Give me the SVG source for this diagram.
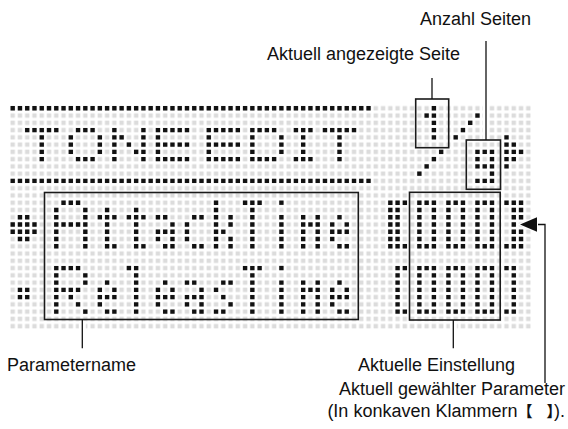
<svg xmlns="http://www.w3.org/2000/svg" width="568" height="429" viewBox="0 0 568 429">
<style>
.k{stroke:#111;stroke-width:.6;stroke-dasharray:.6 .4;fill:none}
.box{fill:none;stroke:#1a1a1a;stroke-width:1.6}
.ln{stroke:#111;stroke-width:1.3;fill:none}
.halo{stroke:#fff;stroke-width:7;fill:none}
text{font-family:"Liberation Sans",Arial,"Noto Sans CJK JP",sans-serif;font-size:18px;fill:#111}
.cjk{font-family:"Noto Sans CJK JP","Liberation Sans",sans-serif;font-weight:bold;font-size:15px}
</style>
<defs>
<pattern id="grid" width="1" height="1" patternUnits="userSpaceOnUse" x="-.5" y="-.5"><rect x=".2" y=".2" width=".6" height=".6" fill="#dcdcdc"/></pattern>
</defs>
<rect width="568" height="429" fill="#fff"/>
<g id="lcd" transform="translate(12.7 108.3) scale(7.262)">
<rect x="-.5" y="-.5" width="72" height="31" fill="url(#grid)"/>
<g id="rules">
<line class="k" x1="-.3" y1="0" x2="49.3" y2="0"/>
<line class="k" x1="-.3" y1="10" x2="49.3" y2="10"/>
</g>
<g id="title">
<line class="k" x1="1.7" y1="3" x2="6.3" y2="3"/><line class="k" x1="4" y1="3.7" x2="4" y2="7.3"/>
<line class="k" x1="8.7" y1="3" x2="11.3" y2="3"/><line class="k" x1="8" y1="3.7" x2="8" y2="6.3"/><line class="k" x1="12" y1="3.7" x2="12" y2="6.3"/><line class="k" x1="8.7" y1="7" x2="11.3" y2="7"/>
<line class="k" x1="14" y1="2.7" x2="14" y2="7.3"/><line class="k" x1="18" y1="2.7" x2="18" y2="7.3"/><line class="k" x1="14.7" y1="4" x2="15.3" y2="4"/><line class="k" x1="15.7" y1="5" x2="16.3" y2="5"/><line class="k" x1="16.7" y1="6" x2="17.3" y2="6"/>
<line class="k" x1="20" y1="2.7" x2="20" y2="7.3"/><line class="k" x1="20.7" y1="3" x2="24.3" y2="3"/><line class="k" x1="20.7" y1="5" x2="24.3" y2="5"/><line class="k" x1="20.7" y1="7" x2="24.3" y2="7"/>
<line class="k" x1="27" y1="2.7" x2="27" y2="7.3"/><line class="k" x1="27.7" y1="3" x2="31.3" y2="3"/><line class="k" x1="27.7" y1="5" x2="31.3" y2="5"/><line class="k" x1="27.7" y1="7" x2="31.3" y2="7"/>
<line class="k" x1="33" y1="2.7" x2="33" y2="7.3"/><line class="k" x1="33.7" y1="3" x2="36.3" y2="3"/><line class="k" x1="33.7" y1="7" x2="36.3" y2="7"/><line class="k" x1="37" y1="3.7" x2="37" y2="6.3"/>
<line class="k" x1="38.7" y1="3" x2="41.3" y2="3"/><line class="k" x1="40" y1="3.7" x2="40" y2="6.3"/><line class="k" x1="38.7" y1="7" x2="41.3" y2="7"/>
<line class="k" x1="42.7" y1="3" x2="47.3" y2="3"/><line class="k" x1="45" y1="3.7" x2="45" y2="7.3"/>
</g>
<g id="page">
<line class="k" x1="58" y1="-.3" x2="58" y2="4.3"/><line class="k" x1="56.7" y1="1" x2="57.3" y2="1"/>
<line class="k" x1="63.7" y1="1" x2="64.3" y2="1"/><line class="k" x1="62.7" y1="2" x2="63.3" y2="2"/><line class="k" x1="61.7" y1="3" x2="62.3" y2="3"/><line class="k" x1="60.7" y1="4" x2="61.3" y2="4"/>
<line class="k" x1="58.7" y1="6" x2="59.3" y2="6"/><line class="k" x1="57.7" y1="7" x2="58.3" y2="7"/><line class="k" x1="56.7" y1="8" x2="57.3" y2="8"/><line class="k" x1="55.7" y1="9" x2="56.3" y2="9"/>
<line class="k" x1="63.7" y1="6" x2="66.3" y2="6"/><line class="k" x1="63.7" y1="7" x2="64.3" y2="7"/><line class="k" x1="65.7" y1="7" x2="66.3" y2="7"/><line class="k" x1="63.7" y1="8" x2="66.3" y2="8"/><line class="k" x1="65.7" y1="9" x2="66.3" y2="9"/><line class="k" x1="63.7" y1="10" x2="66.3" y2="10"/>
<line class="k" x1="68" y1="3.7" x2="68" y2="8.3"/><line class="k" x1="69" y1="4.7" x2="69" y2="7.3"/><line class="k" x1="69.7" y1="6" x2="70.3" y2="6"/>
</g>
<g id="row1">
<line class="k" x1=".7" y1="15" x2="2.3" y2="15"/><line class="k" x1="-.3" y1="16" x2="3.3" y2="16"/><line class="k" x1="-.3" y1="17" x2="3.3" y2="17"/><line class="k" x1=".7" y1="18" x2="2.3" y2="18"/>
<line class="k" x1="6.7" y1="13" x2="9.3" y2="13"/><line class="k" x1="6" y1="13.7" x2="6" y2="19.3"/><line class="k" x1="10" y1="13.7" x2="10" y2="19.3"/><line class="k" x1="6.7" y1="16" x2="9.3" y2="16"/>
<line class="k" x1="13" y1="13.7" x2="13" y2="19.3"/><line class="k" x1="11.7" y1="15" x2="12.3" y2="15"/><line class="k" x1="13.7" y1="15" x2="14.3" y2="15"/><line class="k" x1="13.7" y1="19" x2="14.3" y2="19"/>
<line class="k" x1="17" y1="13.7" x2="17" y2="19.3"/><line class="k" x1="15.7" y1="15" x2="16.3" y2="15"/><line class="k" x1="17.7" y1="15" x2="18.3" y2="15"/><line class="k" x1="17.7" y1="19" x2="18.3" y2="19"/>
<line class="k" x1="19.7" y1="15" x2="21.3" y2="15"/><line class="k" x1="21.7" y1="16" x2="22.3" y2="16"/><line class="k" x1="19.7" y1="17" x2="22.3" y2="17"/><line class="k" x1="19.7" y1="18" x2="20.3" y2="18"/><line class="k" x1="21.7" y1="18" x2="22.3" y2="18"/><line class="k" x1="20.7" y1="19" x2="22.3" y2="19"/>
<line class="k" x1="24.7" y1="15" x2="26.3" y2="15"/><line class="k" x1="24" y1="15.7" x2="24" y2="18.3"/><line class="k" x1="24.7" y1="19" x2="26.3" y2="19"/>
<line class="k" x1="28" y1="12.7" x2="28" y2="19.3"/><line class="k" x1="30" y1="14.7" x2="30" y2="16.3"/><line class="k" x1="28.7" y1="17" x2="29.3" y2="17"/><line class="k" x1="30" y1="17.7" x2="30" y2="19.3"/>
<line class="k" x1="31.7" y1="13" x2="34.3" y2="13"/><line class="k" x1="33" y1="13.7" x2="33" y2="19.3"/>
<line class="k" x1="36.7" y1="13" x2="37.3" y2="13"/><line class="k" x1="37" y1="14.7" x2="37" y2="19.3"/>
<line class="k" x1="40" y1="14.7" x2="40" y2="19.3"/><line class="k" x1="42" y1="14.7" x2="42" y2="19.3"/><line class="k" x1="40.7" y1="16" x2="41.3" y2="16"/>
<line class="k" x1="44.7" y1="15" x2="45.3" y2="15"/><line class="k" x1="43.7" y1="16" x2="44.3" y2="16"/><line class="k" x1="45.7" y1="16" x2="46.3" y2="16"/><line class="k" x1="43.7" y1="17" x2="46.3" y2="17"/><line class="k" x1="43.7" y1="18" x2="44.3" y2="18"/><line class="k" x1="44.7" y1="19" x2="46.3" y2="19"/>
<line class="k" x1="51.7" y1="13" x2="54.3" y2="13"/><line class="k" x1="52" y1="13.7" x2="52" y2="18.3"/><line class="k" x1="53" y1="13.7" x2="53" y2="18.3"/><line class="k" x1="51.7" y1="19" x2="54.3" y2="19"/>
<line class="k" x1="55.7" y1="13" x2="58.3" y2="13"/><line class="k" x1="56" y1="13.7" x2="56" y2="18.3"/><line class="k" x1="58" y1="13.7" x2="58" y2="18.3"/><line class="k" x1="55.7" y1="19" x2="58.3" y2="19"/>
<line class="k" x1="59.7" y1="13" x2="62.3" y2="13"/><line class="k" x1="60" y1="13.7" x2="60" y2="18.3"/><line class="k" x1="62" y1="13.7" x2="62" y2="18.3"/><line class="k" x1="59.7" y1="19" x2="62.3" y2="19"/>
<line class="k" x1="63.7" y1="13" x2="66.3" y2="13"/><line class="k" x1="64" y1="13.7" x2="64" y2="18.3"/><line class="k" x1="66" y1="13.7" x2="66" y2="18.3"/><line class="k" x1="63.7" y1="19" x2="66.3" y2="19"/>
<line class="k" x1="67.7" y1="13" x2="70.3" y2="13"/><line class="k" x1="69" y1="13.7" x2="69" y2="18.3"/><line class="k" x1="70" y1="13.7" x2="70" y2="15.3"/><line class="k" x1="70" y1="16.7" x2="70" y2="18.3"/><line class="k" x1="67.7" y1="19" x2="70.3" y2="19"/>
</g>
<g id="row2">
<line class="k" x1=".7" y1="25" x2="2.3" y2="25"/><line class="k" x1=".7" y1="26" x2="2.3" y2="26"/>
<line class="k" x1="6" y1="21.7" x2="6" y2="28.3"/><line class="k" x1="6.7" y1="22" x2="9.3" y2="22"/><line class="k" x1="10" y1="22.7" x2="10" y2="24.3"/><line class="k" x1="6.7" y1="25" x2="9.3" y2="25"/><line class="k" x1="7.7" y1="26" x2="8.3" y2="26"/><line class="k" x1="8.7" y1="27" x2="9.3" y2="27"/><line class="k" x1="9.7" y1="28" x2="10.3" y2="28"/>
<line class="k" x1="12.7" y1="24" x2="13.3" y2="24"/><line class="k" x1="11.7" y1="25" x2="12.3" y2="25"/><line class="k" x1="13.7" y1="25" x2="14.3" y2="25"/><line class="k" x1="11.7" y1="26" x2="14.3" y2="26"/><line class="k" x1="11.7" y1="27" x2="12.3" y2="27"/><line class="k" x1="12.7" y1="28" x2="14.3" y2="28"/>
<line class="k" x1="15.7" y1="22" x2="16.3" y2="22"/><line class="k" x1="17" y1="21.7" x2="17" y2="28.3"/>
<line class="k" x1="20.7" y1="24" x2="21.3" y2="24"/><line class="k" x1="19.7" y1="25" x2="20.3" y2="25"/><line class="k" x1="21.7" y1="25" x2="22.3" y2="25"/><line class="k" x1="19.7" y1="26" x2="22.3" y2="26"/><line class="k" x1="19.7" y1="27" x2="20.3" y2="27"/><line class="k" x1="20.7" y1="28" x2="22.3" y2="28"/>
<line class="k" x1="23.7" y1="24" x2="25.3" y2="24"/><line class="k" x1="25.7" y1="25" x2="26.3" y2="25"/><line class="k" x1="23.7" y1="26" x2="26.3" y2="26"/><line class="k" x1="23.7" y1="27" x2="24.3" y2="27"/><line class="k" x1="25.7" y1="27" x2="26.3" y2="27"/><line class="k" x1="24.7" y1="28" x2="26.3" y2="28"/>
<line class="k" x1="28.7" y1="24" x2="30.3" y2="24"/><line class="k" x1="27.7" y1="25" x2="28.3" y2="25"/><line class="k" x1="28.7" y1="26" x2="29.3" y2="26"/><line class="k" x1="29.7" y1="27" x2="30.3" y2="27"/><line class="k" x1="27.7" y1="28" x2="29.3" y2="28"/>
<line class="k" x1="31.7" y1="22" x2="34.3" y2="22"/><line class="k" x1="33" y1="22.7" x2="33" y2="28.3"/>
<line class="k" x1="36.7" y1="22" x2="37.3" y2="22"/><line class="k" x1="37" y1="23.7" x2="37" y2="28.3"/>
<line class="k" x1="40" y1="23.7" x2="40" y2="28.3"/><line class="k" x1="42" y1="23.7" x2="42" y2="28.3"/><line class="k" x1="40.7" y1="25" x2="41.3" y2="25"/>
<line class="k" x1="44.7" y1="24" x2="45.3" y2="24"/><line class="k" x1="43.7" y1="25" x2="44.3" y2="25"/><line class="k" x1="45.7" y1="25" x2="46.3" y2="25"/><line class="k" x1="43.7" y1="26" x2="46.3" y2="26"/><line class="k" x1="43.7" y1="27" x2="44.3" y2="27"/><line class="k" x1="44.7" y1="28" x2="46.3" y2="28"/>
<line class="k" x1="52.7" y1="22" x2="54.3" y2="22"/><line class="k" x1="53" y1="22.7" x2="53" y2="27.3"/><line class="k" x1="52.7" y1="28" x2="54.3" y2="28"/>
<line class="k" x1="55.7" y1="22" x2="58.3" y2="22"/><line class="k" x1="56" y1="22.7" x2="56" y2="27.3"/><line class="k" x1="58" y1="22.7" x2="58" y2="27.3"/><line class="k" x1="55.7" y1="28" x2="58.3" y2="28"/>
<line class="k" x1="59.7" y1="22" x2="62.3" y2="22"/><line class="k" x1="60" y1="22.7" x2="60" y2="27.3"/><line class="k" x1="62" y1="22.7" x2="62" y2="27.3"/><line class="k" x1="59.7" y1="28" x2="62.3" y2="28"/>
<line class="k" x1="63.7" y1="22" x2="66.3" y2="22"/><line class="k" x1="64" y1="22.7" x2="64" y2="27.3"/><line class="k" x1="66" y1="22.7" x2="66" y2="27.3"/><line class="k" x1="63.7" y1="28" x2="66.3" y2="28"/>
<line class="k" x1="67.7" y1="22" x2="69.3" y2="22"/><line class="k" x1="69" y1="22.7" x2="69" y2="27.3"/><line class="k" x1="67.7" y1="28" x2="69.3" y2="28"/>
</g>
</g>
<g id="halos">
<line class="halo" x1="486" y1="104" x2="486" y2="139" style="stroke-width:6"/>
<line class="halo" x1="82.3" y1="321" x2="82.3" y2="332"/>
<line class="halo" x1="453.3" y1="321" x2="453.3" y2="332"/>
</g>
<g id="box-current-page"><rect class="box" x="415.7" y="99" width="33" height="48.7"/></g>
<g id="box-page-count"><rect class="box" x="466.3" y="140" width="34.2" height="49.3"/></g>
<g id="box-name"><rect class="box" x="44.5" y="192.5" width="313.8" height="127"/></g>
<g id="box-value"><rect class="box" x="409.5" y="192.3" width="90.7" height="127.7"/></g>
<g id="connectors">
<line class="ln" x1="432" y1="78" x2="432" y2="99"/>
<line class="ln" x1="486" y1="41" x2="486" y2="140"/>
<line class="ln" x1="82.3" y1="319.3" x2="82.3" y2="348.3"/>
<line class="ln" x1="453.3" y1="320" x2="453.3" y2="348.3"/>
<path class="ln" d="M545 383V224.5H536"/>
<polygon points="520,224.5 537,217.3 537,231.7" fill="#111" stroke="#fff" stroke-width="2" paint-order="stroke"/>
</g>
<g id="labels">
<text x="420" y="25">Anzahl Seiten</text>
<text x="267" y="60">Aktuell angezeigte Seite</text>
<text x="7" y="370.5">Parametername</text>
<text x="358" y="371">Aktuelle Einstellung</text>
<text x="565" y="395" text-anchor="end">Aktuell gewählter Parameter</text>
<text x="565" y="417" text-anchor="end">(In konkaven Klammern<tspan class="cjk">【</tspan><tspan class="cjk" dx="14">】</tspan>).</text>
</g>
</svg>
